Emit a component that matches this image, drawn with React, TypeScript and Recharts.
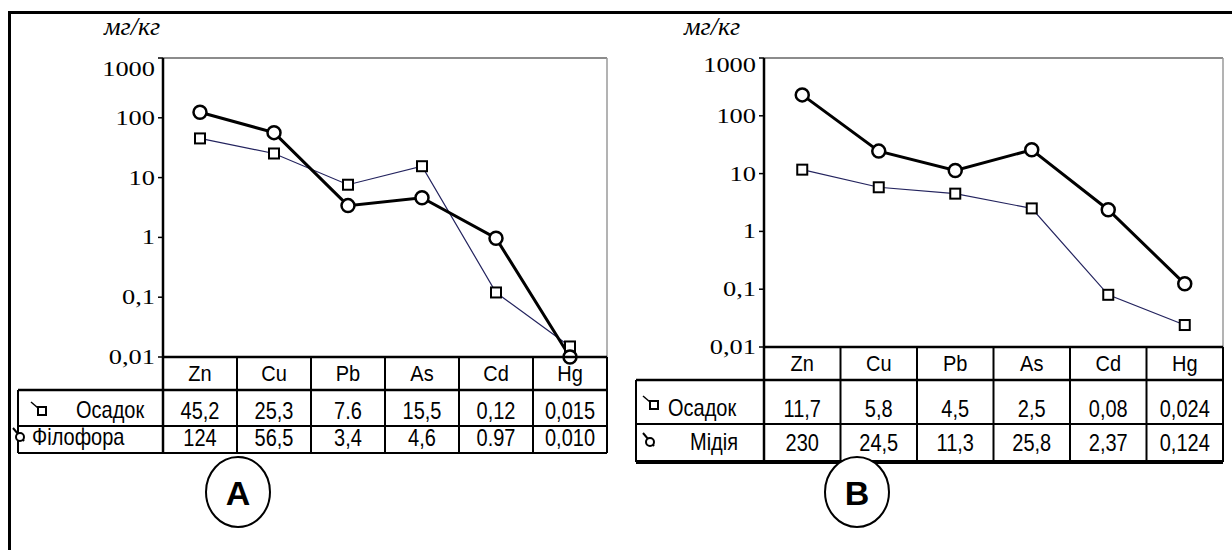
import React from "react";
import { LineChart, Line, XAxis, YAxis, CartesianGrid } from "recharts";

// ---------- data ----------
const elements = ["Zn", "Cu", "Pb", "As", "Cd", "Hg"];
const yTicks = [0.01, 0.1, 1, 10, 100, 1000];
const yTickLabels = ["0,01", "0,1", "1", "10", "100", "1000"];
const unitLabel = "мг/кг";

const sedimentName = "Осадок";
const phyllophoraName = "Філофора";
const musselName = "Мідія";
const panelLabels = ["A", "B"];

const sedimentA = [45.2, 25.3, 7.6, 15.5, 0.12, 0.015];
const phyllophoraA = [124, 56.5, 3.4, 4.6, 0.97, 0.01];
const sedimentAText = ["45,2", "25,3", "7.6", "15,5", "0,12", "0,015"];
const phyllophoraAText = ["124", "56,5", "3,4", "4,6", "0.97", "0,010"];

const sedimentB = [11.7, 5.8, 4.5, 2.5, 0.08, 0.024];
const musselB = [230, 24.5, 11.3, 25.8, 2.37, 0.124];
const sedimentBText = ["11,7", "5,8", "4,5", "2,5", "0,08", "0,024"];
const musselBText = ["230", "24,5", "11,3", "25,8", "2,37", "0,124"];

const dataA = elements.map((el, i) => ({ el, sed: sedimentA[i], bio: phyllophoraA[i] }));
const dataB = elements.map((el, i) => ({ el, sed: sedimentB[i], bio: musselB[i] }));

// ---------- styling helpers ----------
const SERIF = "'Liberation Serif', 'Times New Roman', serif";
const SANS = "'Liberation Sans', Arial, sans-serif";

const makeTick = (topShift: number) => (props: any) => {
  const { x, y, payload } = props;
  const i = yTicks.findIndex((t) => Math.abs(t - payload.value) < 1e-9);
  const label = i >= 0 ? yTickLabels[i] : String(payload.value);
  const dy = i === yTicks.length - 1 ? topShift : 0;
  return (
    <text
      transform={`translate(${x},${y + 7 + dy}) scale(1.2,1)`}
      textAnchor="end"
      fontFamily={SERIF}
      fontSize={22}
      fill="#000"
    >
      {label}
    </text>
  );
};

const SquareDot = (p: any) => (
  <rect
    key={`s${p.index}`}
    x={p.cx - 5}
    y={p.cy - 5}
    width={10}
    height={10}
    fill="#fff"
    stroke="#000"
    strokeWidth={2}
  />
);
const CircleDot = (p: any) => (
  <circle key={`c${p.index}`} cx={p.cx} cy={p.cy} r={6.5} fill="#fff" stroke="#000" strokeWidth={2.5} />
);

type PanelProps = {
  data: any[];
  left: number;
  width: number;
  height: number;
  marginRight: number;
  marginBottom: number;
  axisWidth: number;
  topShift: number;
};

function Panel({ data, left, width, height, marginRight, marginBottom, axisWidth, topShift }: PanelProps) {
  return (
    <div style={{ position: "absolute", left, top: 0, width, height }}>
      <LineChart
        width={width}
        height={height}
        data={data}
        margin={{ top: 58, right: marginRight, bottom: marginBottom, left: 0 }}
      >
        <CartesianGrid vertical={false} stroke="#1a1a1a" strokeWidth={1.2} />
        <XAxis dataKey="el" hide scale="band" />
        <YAxis
          yAxisId="l"
          type="number"
          scale="log"
          domain={[0.01, 1000]}
          ticks={yTicks}
          width={axisWidth}
          tick={makeTick(topShift)}
          tickSize={5}
          tickMargin={3}
          interval={0}
          axisLine={{ stroke: "#000", strokeWidth: 2.5 }}
          tickLine={{ stroke: "#000", strokeWidth: 1.5 }}
        />
        <YAxis
          yAxisId="r"
          orientation="right"
          type="number"
          scale="log"
          domain={[0.01, 1000]}
          ticks={yTicks}
          width={1}
          tick={false}
          tickLine={false}
          axisLine={{ stroke: "#9a9a9a", strokeWidth: 1.5 }}
        />
        <Line
          yAxisId="l"
          type="linear"
          dataKey="sed"
          stroke="#23235e"
          strokeWidth={1.2}
          dot={SquareDot}
          isAnimationActive={false}
        />
        <Line
          yAxisId="l"
          type="linear"
          dataKey="bio"
          stroke="#000"
          strokeWidth={3}
          dot={CircleDot}
          isAnimationActive={false}
        />
      </LineChart>
    </div>
  );
}

function StretchText({ x, y, anchor, children, size = 20, sy = 1.18 }: any) {
  return (
    <text
      transform={`translate(${x},${y}) scale(1,${sy})`}
      textAnchor={anchor}
      fontFamily={SANS}
      fontSize={size}
      fill="#000"
    >
      {children}
    </text>
  );
}

function SquareIcon({ x, y }: { x: number; y: number }) {
  return (
    <g>
      <line x1={x - 7} y1={y - 8} x2={x} y2={y - 2} stroke="#000" strokeWidth={1.5} />
      <rect x={x} y={y - 3} width={8} height={8} fill="#fff" stroke="#000" strokeWidth={2} />
    </g>
  );
}
function CircleIcon({ x, y }: { x: number; y: number }) {
  return (
    <g>
      <line x1={x - 3} y1={y - 8} x2={x + 8} y2={y + 5} stroke="#000" strokeWidth={2} />
      <circle cx={x + 4} cy={y + 1} r={4} fill="#fff" stroke="#000" strokeWidth={2} />
    </g>
  );
}

type TableProps = {
  plotLeft: number;
  plotRight: number;
  headerTop: number;
  headerBottom: number;
  row1Bottom: number;
  row2Bottom: number;
  labelLeft: number;
  bottomWidth: number;
  row1: { name: string; nameX: number; iconX: number; texts: string[] };
  row2: { name: string; nameX: number; iconX: number; texts: string[] };
};

function DataTable(t: TableProps) {
  const colW = (t.plotRight - t.plotLeft) / elements.length;
  const xs = elements.map((_, i) => t.plotLeft + i * colW);
  const sw = 2;
  const r2Base = t.row2Bottom - Math.max(7, (t.row2Bottom - t.row1Bottom) / 2 - 8);
  return (
    <g>
      <line x1={t.plotLeft} y1={t.headerTop} x2={t.plotRight} y2={t.headerTop} stroke="#000" strokeWidth={2.5} />
      <line x1={t.labelLeft} y1={t.headerBottom} x2={t.plotRight} y2={t.headerBottom} stroke="#000" strokeWidth={2.5} />
      <line x1={t.labelLeft} y1={t.row1Bottom} x2={t.plotRight} y2={t.row1Bottom} stroke="#000" strokeWidth={sw} />
      <line x1={t.labelLeft} y1={t.row2Bottom} x2={t.plotRight} y2={t.row2Bottom} stroke="#000" strokeWidth={t.bottomWidth} />
      <line x1={t.labelLeft} y1={t.headerBottom} x2={t.labelLeft} y2={t.row2Bottom} stroke="#000" strokeWidth={sw} />
      {xs.map((x, i) => (
        <line key={`v${i}`} x1={x} y1={t.headerTop} x2={x} y2={t.row2Bottom} stroke="#000" strokeWidth={i === 0 ? 2.5 : sw} />
      ))}
      <line x1={t.plotRight} y1={t.headerTop} x2={t.plotRight} y2={t.row2Bottom} stroke="#000" strokeWidth={sw} />
      {elements.map((el, i) => (
        <StretchText key={`h${i}`} x={xs[i] + colW / 2} y={t.headerBottom - 9} anchor="middle" sy={1.12}>
          {el}
        </StretchText>
      ))}
      <SquareIcon x={t.row1.iconX} y={(t.headerBottom + t.row1Bottom) / 2 + 2} />
      <StretchText x={t.row1.nameX} y={t.row1Bottom - 8} anchor="start">
        {t.row1.name}
      </StretchText>
      {t.row1.texts.map((s, i) => (
        <StretchText key={`r1${i}`} x={xs[i] + colW / 2} y={t.row1Bottom - 7} anchor="middle">
          {s}
        </StretchText>
      ))}
      <CircleIcon x={t.row2.iconX} y={r2Base - 10} />
      <StretchText x={t.row2.nameX} y={r2Base - 1} anchor="start">
        {t.row2.name}
      </StretchText>
      {t.row2.texts.map((s, i) => (
        <StretchText key={`r2${i}`} x={xs[i] + colW / 2} y={r2Base} anchor="middle">
          {s}
        </StretchText>
      ))}
    </g>
  );
}

function Overlay() {
  return (
    <svg
      width={1232}
      height={550}
      style={{ position: "absolute", left: 0, top: 0, pointerEvents: "none" }}
    >
      <line x1={8} y1={12.5} x2={1232} y2={12.5} stroke="#000" strokeWidth={3} />
      <line x1={9.5} y1={11} x2={9.5} y2={550} stroke="#000" strokeWidth={3} />
      <text x={104} y={35} fontFamily={SERIF} fontStyle="italic" fontSize={26} fill="#000">
        {unitLabel}
      </text>
      <text x={684} y={35} fontFamily={SERIF} fontStyle="italic" fontSize={26} fill="#000">
        {unitLabel}
      </text>
      <DataTable
        plotLeft={163}
        plotRight={607}
        headerTop={357}
        headerBottom={390}
        row1Bottom={426}
        row2Bottom={453}
        labelLeft={18}
        bottomWidth={2}
        row1={{ name: sedimentName, nameX: 76, iconX: 38, texts: sedimentAText }}
        row2={{ name: phyllophoraName, nameX: 32, iconX: 16, texts: phyllophoraAText }}
      />
      <DataTable
        plotLeft={764}
        plotRight={1223}
        headerTop={347}
        headerBottom={380}
        row1Bottom={424}
        row2Bottom={462}
        labelLeft={636}
        bottomWidth={4}
        row1={{ name: sedimentName, nameX: 668, iconX: 650, texts: sedimentBText }}
        row2={{ name: musselName, nameX: 690, iconX: 646, texts: musselBText }}
      />
      <ellipse cx={238} cy={492} rx={32} ry={35} fill="#fff" stroke="#000" strokeWidth={2} />
      <text x={238} y={505} textAnchor="middle" fontFamily={SANS} fontWeight="bold" fontSize={34} fill="#000">
        {panelLabels[0]}
      </text>
      <ellipse cx={857} cy={492} rx={32} ry={35} fill="#fff" stroke="#000" strokeWidth={2} />
      <text x={857} y={505} textAnchor="middle" fontFamily={SANS} fontWeight="bold" fontSize={34} fill="#000">
        {panelLabels[1]}
      </text>
    </svg>
  );
}

export default function App() {
  return (
    <div
      style={{
        position: "absolute",
        left: 0,
        top: 0,
        width: 1232,
        height: 550,
        background: "#fff",
        overflow: "hidden",
      }}
    >
      <Panel data={dataA} left={0} width={620} height={370} marginRight={12} marginBottom={13} axisWidth={163} topShift={11} />
      <Panel data={dataB} left={620} width={612} height={360} marginRight={8} marginBottom={13} axisWidth={144} topShift={7} />
      <Overlay />
    </div>
  );
}
